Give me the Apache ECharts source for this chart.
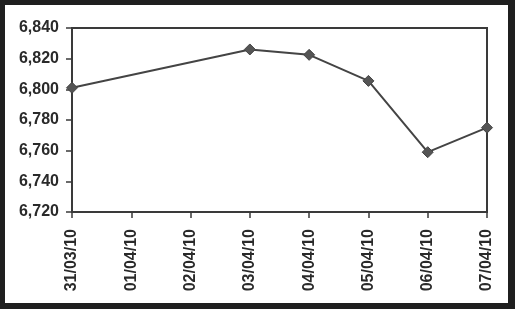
<!DOCTYPE html>
<html><head><meta charset="utf-8">
<script src="https://cdn.jsdelivr.net/npm/echarts@6/dist/echarts.min.js"></script>
<style>html,body{margin:0;padding:0;background:#1f1f1f}#c{width:515px;height:309px}</style>
</head><body><div id="c"></div>
<script>
const categories = ['31/03/10','01/04/10','02/04/10','03/04/10','04/04/10','05/04/10','06/04/10','07/04/10'];
const values = [6801, null, null, 6826, 6822.5, 6805.5, 6759, 6775];
const yMin = 6720, yMax = 6840, yStep = 20;

const chart = echarts.init(document.getElementById('c'));
const lab = {fontFamily:'Liberation Sans, Arial, sans-serif', fontWeight:'bold', fontSize:16, color:'#2a2a2a'};
chart.setOption({
  backgroundColor:'#1f1f1f',
  animation:false,
  graphic:[{type:'rect', shape:{x:5,y:5,width:503,height:298}, style:{fill:'#ffffff'}, z:-10}],
  grid:{left:72, top:28, right:28, bottom:97, show:true, borderColor:'#3a3a3a', borderWidth:2, backgroundColor:'transparent'},
  xAxis:{type:'category', data:categories, boundaryGap:false,
    axisLine:{lineStyle:{color:'#3a3a3a', width:2}},
    axisTick:{show:true, length:6, lineStyle:{color:'#3a3a3a', width:1.5}, alignWithLabel:true},
    axisLabel:Object.assign({rotate:90, margin:17, interval:0}, lab),
    splitLine:{show:false}},
  yAxis:{type:'value', min:yMin, max:yMax, interval:yStep,
    axisLine:{show:true, lineStyle:{color:'#3a3a3a', width:2}},
    axisTick:{show:true, length:6, lineStyle:{color:'#3a3a3a', width:1.5}},
    axisLabel:Object.assign({margin:13, formatter:v=>v.toLocaleString('en-US')}, lab),
    splitLine:{show:false}},
  series:[{type:'line', data:values, connectNulls:true,
    symbol:'diamond', symbolSize:11,
    lineStyle:{color:'#444444', width:2},
    itemStyle:{color:'#555555', borderColor:'#444444', borderWidth:1}}]
});
</script></body></html>
